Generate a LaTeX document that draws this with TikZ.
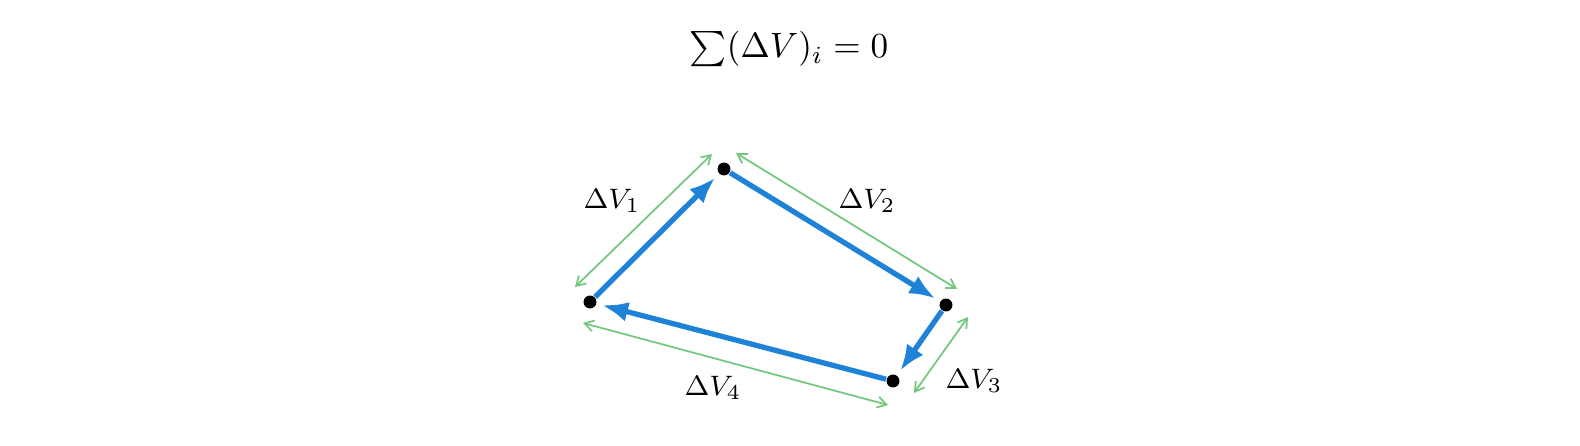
\documentclass[tikz,border=0pt]{standalone}
\usepackage{amsmath,amssymb}
\usepackage{tikz}
\usetikzlibrary{arrows.meta}
\definecolor{kek}{RGB}{30,130,215}
\definecolor{zold}{RGB}{115,200,125}
\tikzset{
  pont/.style={circle,fill,inner sep=1.3pt},
  nyil/.style={kek,line width=1.5pt,-{Latex[length=2.6mm,width=2mm]},shorten >=1.5pt},
  meret/.style={zold,line width=0.5pt,{Straight Barb[length=0.9mm,width=1.1mm]}-{Straight Barb[length=0.9mm,width=1.1mm]}},
  cimke/.style={font=\footnotesize},
}

\begin{document}
\begin{tikzpicture}[x=0.01cm,y=-0.01cm]
  \useasboundingbox (0,0) rectangle (1580,446);
  \node (osszeg) at (789,49) {$\sum(\Delta V)_i = 0$};
  % csucsok
  \node[pont] (a) at (724,169) {};
  \node[pont] (b) at (590,302) {};
  \node[pont] (c) at (946,305) {};
  \node[pont] (d) at (893,381) {};
  \draw[nyil] (b) -- (a);
  \draw[nyil] (a) -- (c);
  \draw[nyil] (c) -- (d);
  \draw[nyil] (d) -- (b);
  % meretvonalak
  \coordinate (m1a) at (575,287);
  \coordinate (m1b) at (712,154);
  \coordinate (m2a) at (736,153);
  \coordinate (m2b) at (957,289);
  \coordinate (m3a) at (968,317);
  \coordinate (m3b) at (914,393);
  \coordinate (m4a) at (583,323);
  \coordinate (m4b) at (888,405);
  \draw[meret] (m1a) -- (m1b);
  \draw[meret] (m2a) -- (m2b);
  \draw[meret] (m3a) -- (m3b);
  \draw[meret] (m4a) -- (m4b);
  \node[cimke] (v1) at (612,201) {$\Delta V_1$};
  \node[cimke] (v2) at (867,201) {$\Delta V_2$};
  \node[cimke] (v3) at (974,381) {$\Delta V_3$};
  \node[cimke] (v4) at (713,388) {$\Delta V_4$};
\end{tikzpicture}
\end{document}
